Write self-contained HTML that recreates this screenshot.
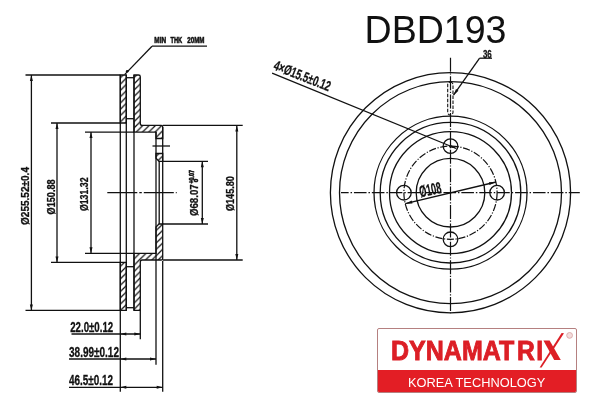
<!DOCTYPE html>
<html><head><meta charset="utf-8"><style>
html,body{margin:0;padding:0;background:#fff;}
body{width:600px;height:400px;overflow:hidden;position:relative;}
svg{position:absolute;left:0;top:0;will-change:transform;}
.l{stroke:#111;stroke-width:1.3;fill:none;}
.c{stroke:#111;stroke-width:1.2;fill:none;stroke-dasharray:12.6 1.9 1.5 1.9;}
.d{stroke:#111;stroke-width:1.1;fill:none;stroke-dasharray:3.5 1.5;}
.h{stroke:#111;stroke-width:1.3;fill:none;}
.h2{stroke:#111;stroke-width:1.1;fill:url(#hatch2);}
.a{fill:#111;}
.t{font-family:"Liberation Sans",sans-serif;font-weight:bold;fill:#111;stroke:#111;stroke-width:0.3;vector-effect:non-scaling-stroke;}
.t2{font-family:"Liberation Sans",sans-serif;font-weight:bold;fill:#111;stroke:#111;stroke-width:0.6;vector-effect:non-scaling-stroke;}
.t3{font-family:"Liberation Sans",sans-serif;font-weight:bold;fill:#111;stroke:#111;stroke-width:0.6;vector-effect:non-scaling-stroke;}
.tb{font-family:"Liberation Sans",sans-serif;font-weight:bold;fill:#111;}
#logo{position:absolute;left:377px;top:328px;width:200.3px;height:64.7px;box-sizing:border-box;border:1px solid #b58080;border-radius:2px;overflow:hidden;background:#fff;}
#band{position:absolute;left:-1px;right:-1px;bottom:-1px;height:22.7px;background:#e31e25;}
</style></head><body>
<svg width="600" height="400" viewBox="0 0 600 400">
<defs>
<pattern id="hp0" patternUnits="userSpaceOnUse" x="2.85" y="0" width="6.3" height="6.3"><path d="M-1,7.3 L7.3,-1 M-1,1 L1,-1 M5.3,7.3 L7.3,5.3" stroke="#111" stroke-width="1.25"/></pattern><pattern id="hp1" patternUnits="userSpaceOnUse" x="3.7" y="0" width="6.3" height="6.3"><path d="M-1,7.3 L7.3,-1 M-1,1 L1,-1 M5.3,7.3 L7.3,5.3" stroke="#111" stroke-width="1.25"/></pattern><pattern id="hp2" patternUnits="userSpaceOnUse" x="3.7" y="0" width="6.3" height="6.3"><path d="M-1,7.3 L7.3,-1 M-1,1 L1,-1 M5.3,7.3 L7.3,5.3" stroke="#111" stroke-width="1.25"/></pattern><pattern id="hp3" patternUnits="userSpaceOnUse" x="2.45" y="0" width="6.3" height="6.3"><path d="M-1,7.3 L7.3,-1 M-1,1 L1,-1 M5.3,7.3 L7.3,5.3" stroke="#111" stroke-width="1.25"/></pattern><pattern id="hp4" patternUnits="userSpaceOnUse" x="2.4" y="0" width="6.3" height="6.3"><path d="M-1,7.3 L7.3,-1 M-1,1 L1,-1 M5.3,7.3 L7.3,5.3" stroke="#111" stroke-width="1.25"/></pattern>
</defs>
<polygon class="h" style="fill:url(#hp0)" points="120.3,75.0 126.3,75.0 126.3,123.0 120.3,123.0"/>
<path class="h" style="fill:url(#hp1)" d="M134.0,75.0 L138.5,75.0 Q140.3,75.0 140.3,76.8 L140.3,123.4 Q140.3,125.4 142.3,125.4 L161.2,125.4 Q162.7,125.4 162.7,126.9 L162.7,138.5 L156.0,138.5 L156.0,132.1 L134.0,132.1 Z"/>
<polygon class="h" style="fill:url(#hp2)" points="156.0,153.5 162.7,153.5 162.7,161.3 159,161.3 156.0,158.3"/>
<polygon class="h" style="fill:url(#hp3)" points="120.3,310.4 126.3,310.4 126.3,262.4 120.3,262.4"/>
<path class="h" style="fill:url(#hp4)" d="M134.0,310.4 L140.3,310.4 L140.3,262.0 Q140.3,260.0 142.3,260.0 L161.2,260.0 Q162.7,260.0 162.7,258.5 L162.7,224 L159,224 L156.0,227 L156.0,253.3 L134.0,253.3 Z"/>
<line class="l" x1="126.3" y1="77.7" x2="134.0" y2="77.7"/>
<line class="l" x1="126.3" y1="307.7" x2="134.0" y2="307.7"/>
<line class="l" x1="126.3" y1="118.7" x2="134.0" y2="118.7"/>
<line class="l" x1="126.3" y1="266.7" x2="134.0" y2="266.7"/>
<line class="l" x1="120.3" y1="75.0" x2="120.3" y2="391.7"/>
<line class="l" x1="126.3" y1="75.0" x2="126.3" y2="310.4"/>
<line class="l" x1="134.0" y1="75.0" x2="134.0" y2="310.4"/>
<line class="l" x1="140.3" y1="310.4" x2="140.3" y2="339.2"/>
<line class="l" x1="156.0" y1="132.1" x2="156.0" y2="364.7"/>
<line class="l" x1="162.7" y1="261.0" x2="162.7" y2="391.7"/>
<line class="l" x1="162.7" y1="126.9" x2="162.7" y2="224"/>
<line class="l" x1="159.2" y1="161.3" x2="159.2" y2="224"/>
<line class="l" x1="25.5" y1="75.0" x2="120.3" y2="75.0"/>
<line class="l" x1="51" y1="123.0" x2="120.3" y2="123.0"/>
<line class="l" x1="51" y1="262.4" x2="120.3" y2="262.4"/>
<line class="l" x1="85" y1="132.1" x2="134.0" y2="132.1"/>
<line class="l" x1="85" y1="253.3" x2="134.0" y2="253.3"/>
<line class="l" x1="162.7" y1="125.4" x2="242.7" y2="125.4"/>
<line class="l" x1="162.7" y1="260.0" x2="242.7" y2="260.0"/>
<line class="l" x1="25.5" y1="310.4" x2="120.3" y2="310.4"/>
<line class="l" x1="162.7" y1="161.3" x2="208" y2="161.3"/>
<line class="l" x1="162.7" y1="224" x2="208" y2="224"/>
<line class="l" x1="152.5" y1="146" x2="170" y2="146"/>
<line class="l" style="stroke-dasharray:30 2 2.5 2" x1="107.3" y1="192.7" x2="176.7" y2="192.7"/>
<line class="l" x1="31.4" y1="75.0" x2="31.4" y2="310.4"/>
<polygon class="a" points="31.40,75.00 32.90,81.00 29.90,81.00"/>
<polygon class="a" points="31.40,310.40 29.90,304.40 32.90,304.40"/>
<line class="l" x1="57" y1="123.0" x2="57" y2="262.4"/>
<polygon class="a" points="57.00,123.00 58.50,129.00 55.50,129.00"/>
<polygon class="a" points="57.00,262.40 55.50,256.40 58.50,256.40"/>
<line class="l" x1="91" y1="132.1" x2="91" y2="253.3"/>
<polygon class="a" points="91.00,132.10 92.50,138.10 89.50,138.10"/>
<polygon class="a" points="91.00,253.30 89.50,247.30 92.50,247.30"/>
<line class="l" x1="202.3" y1="161.3" x2="202.3" y2="224"/>
<polygon class="a" points="202.30,161.30 203.80,167.30 200.80,167.30"/>
<polygon class="a" points="202.30,224.00 200.80,218.00 203.80,218.00"/>
<line class="l" x1="236.8" y1="125.4" x2="236.8" y2="260.0"/>
<polygon class="a" points="236.80,125.40 238.30,131.40 235.30,131.40"/>
<polygon class="a" points="236.80,260.00 235.30,254.00 238.30,254.00"/>
<line class="l" x1="71.5" y1="334" x2="140.3" y2="334"/>
<polygon class="a" points="120.30,334.00 126.30,332.50 126.30,335.50"/>
<polygon class="a" points="140.30,334.00 134.30,335.50 134.30,332.50"/>
<line class="l" x1="69" y1="359" x2="156.0" y2="359"/>
<polygon class="a" points="120.30,359.00 126.30,357.50 126.30,360.50"/>
<polygon class="a" points="156.00,359.00 150.00,360.50 150.00,357.50"/>
<line class="l" x1="69" y1="387.3" x2="162.7" y2="387.3"/>
<polygon class="a" points="120.30,387.30 126.30,385.80 126.30,388.80"/>
<polygon class="a" points="162.70,387.30 156.70,388.80 156.70,385.80"/>
<text class="t" x="0" y="0" font-size="20" transform="translate(70.2 331.5) rotate(0) scale(0.7000)" textLength="61.43" lengthAdjust="spacingAndGlyphs">22.0±0.12</text>
<text class="t" x="0" y="0" font-size="20" transform="translate(69 356.5) rotate(0) scale(0.7000)" textLength="71.43" lengthAdjust="spacingAndGlyphs">38.99±0.12</text>
<text class="t" x="0" y="0" font-size="20" transform="translate(69 385) rotate(0) scale(0.7000)" textLength="62.86" lengthAdjust="spacingAndGlyphs">46.5±0.12</text>
<text class="t" x="0" y="0" font-size="20" transform="translate(28.7 225) rotate(-90) scale(0.5800)" textLength="100.00" lengthAdjust="spacingAndGlyphs">Ø255.52±0.4</text>
<text class="t" x="0" y="0" font-size="20" transform="translate(55 214.4) rotate(-90) scale(0.5800)" textLength="60.34" lengthAdjust="spacingAndGlyphs">Ø150.88</text>
<text class="t" x="0" y="0" font-size="20" transform="translate(87.9 211.1) rotate(-90) scale(0.5800)" textLength="58.10" lengthAdjust="spacingAndGlyphs">Ø131.32</text>
<text class="t" x="0" y="0" font-size="20" transform="translate(198.2 216) rotate(-90) scale(0.5500)" textLength="57.45" lengthAdjust="spacingAndGlyphs">Ø68.07</text>
<text class="t" x="0" y="0" font-size="20" transform="translate(233.6 211.1) rotate(-90) scale(0.5800)" textLength="60.34" lengthAdjust="spacingAndGlyphs">Ø145.80</text>
<text class="t3" x="0" y="0" font-size="20" transform="translate(193.9 183.6) rotate(-90) scale(0.3200)" textLength="42.50" lengthAdjust="spacingAndGlyphs">+0.07</text>
<text class="t3" x="0" y="0" font-size="20" transform="translate(197.9 182.2) rotate(-90) scale(0.3000)" textLength="11.67" lengthAdjust="spacingAndGlyphs">0</text>
<text class="t2" x="0" y="0" font-size="20" transform="translate(154.3 43.4) rotate(0) scale(0.4800)" textLength="24.58" lengthAdjust="spacingAndGlyphs">MIN</text>
<text class="t2" x="0" y="0" font-size="20" transform="translate(170.4 43.4) rotate(0) scale(0.4800)" textLength="24.58" lengthAdjust="spacingAndGlyphs">THK</text>
<text class="t2" x="0" y="0" font-size="20" transform="translate(187.3 43.4) rotate(0) scale(0.4800)" textLength="35.83" lengthAdjust="spacingAndGlyphs">20MM</text>
<line class="l" x1="152" y1="46.2" x2="207" y2="46.2"/>
<line class="l" x1="152" y1="46.2" x2="124.6" y2="74.6"/>
<circle cx="127.2" cy="71.3" r="1.3" fill="#111"/>
<circle class="l" cx="450.5" cy="192.7" r="120.1"/>
<circle class="l" cx="450.5" cy="192.7" r="111"/>
<circle class="l" cx="450.5" cy="192.7" r="76.5"/>
<circle class="l" cx="450.5" cy="192.7" r="70.3"/>
<circle class="l" cx="450.5" cy="192.7" r="61"/>
<circle class="l" cx="450.5" cy="192.7" r="34.3"/>
<circle class="c" style="stroke-dasharray:7.2 1.6 1.2 1.6" cx="450.5" cy="192.7" r="46.6"/>
<circle class="l" cx="450.50" cy="146.10" r="7.3"/>
<circle class="l" cx="403.90" cy="192.70" r="7.3"/>
<circle class="l" cx="497.10" cy="192.70" r="7.3"/>
<circle class="l" cx="450.50" cy="239.30" r="7.3"/>
<line class="c" style="stroke-dashoffset:4.95" x1="341" y1="192.7" x2="579.8" y2="192.7"/>
<line class="c" style="stroke-dasharray:14 1.6 1.2 1.6" x1="450.5" y1="57.8" x2="450.5" y2="313.3"/>
<rect class="d" x="447.7" y="82" width="5.3" height="33" rx="2.65"/>
<text class="t" x="0" y="0" font-size="20" transform="translate(482.9 57.7) rotate(0) scale(0.5900)" textLength="14.92" lengthAdjust="spacingAndGlyphs">36</text>
<line class="l" x1="479.6" y1="58.2" x2="492" y2="58.2"/>
<line class="l" x1="479.6" y1="58.2" x2="453.5" y2="95.2"/>
<polygon class="a" points="453.50,95.20 456.02,89.02 458.47,90.75"/>
<line class="l" x1="272.1" y1="73.1" x2="456.3" y2="148.5"/>
<polygon class="a" points="456.30,148.50 449.25,147.26 450.38,144.48"/>
<text class="t" x="0" y="0" font-size="20" transform="translate(272.7 69.3) rotate(21.6) scale(0.7100)" textLength="84.51" lengthAdjust="spacingAndGlyphs">4×Ø15.5±0.12</text>
<line class="l" x1="405.3" y1="203.7" x2="496" y2="182"/>
<polygon class="a" points="405.30,203.70 411.76,200.61 412.46,203.53"/>
<polygon class="a" points="496.00,182.00 489.54,185.09 488.84,182.17"/>
<text class="t" x="0" y="0" font-size="20" transform="translate(420.6 197.2) rotate(-11.6) scale(0.8000)" textLength="27.50" lengthAdjust="spacingAndGlyphs">Ø108</text>
<text x="364.5" y="42.8" font-family="Liberation Sans" font-size="39" fill="#111" textLength="142" lengthAdjust="spacingAndGlyphs">DBD193</text>
</svg>
<div id="logo"><div id="band"></div></div>
<svg width="600" height="400" viewBox="0 0 600 400" style="position:absolute;left:0;top:0">
<g font-family="Liberation Sans" font-weight="bold" font-size="28" fill="#dc1f26" stroke="#dc1f26" stroke-width="0.9">
<text x="391" y="359.8" textLength="123.3" lengthAdjust="spacingAndGlyphs">DYNAMAT</text>
<text x="0" y="0" transform="translate(516.9 359.8) scale(0.8815 1)">R</text>
<text x="0" y="0" transform="translate(536.3 359.8) scale(0.8815 1)">I</text>
</g>
<polygon points="543.4,340.4 549.6,340.4 560.8,360 554.2,360" fill="#dc1f26"/>
<text x="408" y="387.3" font-family="Liberation Sans" font-size="12.6" fill="#fff" textLength="137.3" lengthAdjust="spacingAndGlyphs">KOREA TECHNOLOGY</text>
<polygon points="539.6,367.4 541.6,367.4 564,333.2 561.6,333" fill="#dc1f26"/>
<circle cx="569.6" cy="335.4" r="2.9" fill="#f3dcdc" stroke="#d9a8a8" stroke-width="0.9"/>
</svg>
</body></html>
